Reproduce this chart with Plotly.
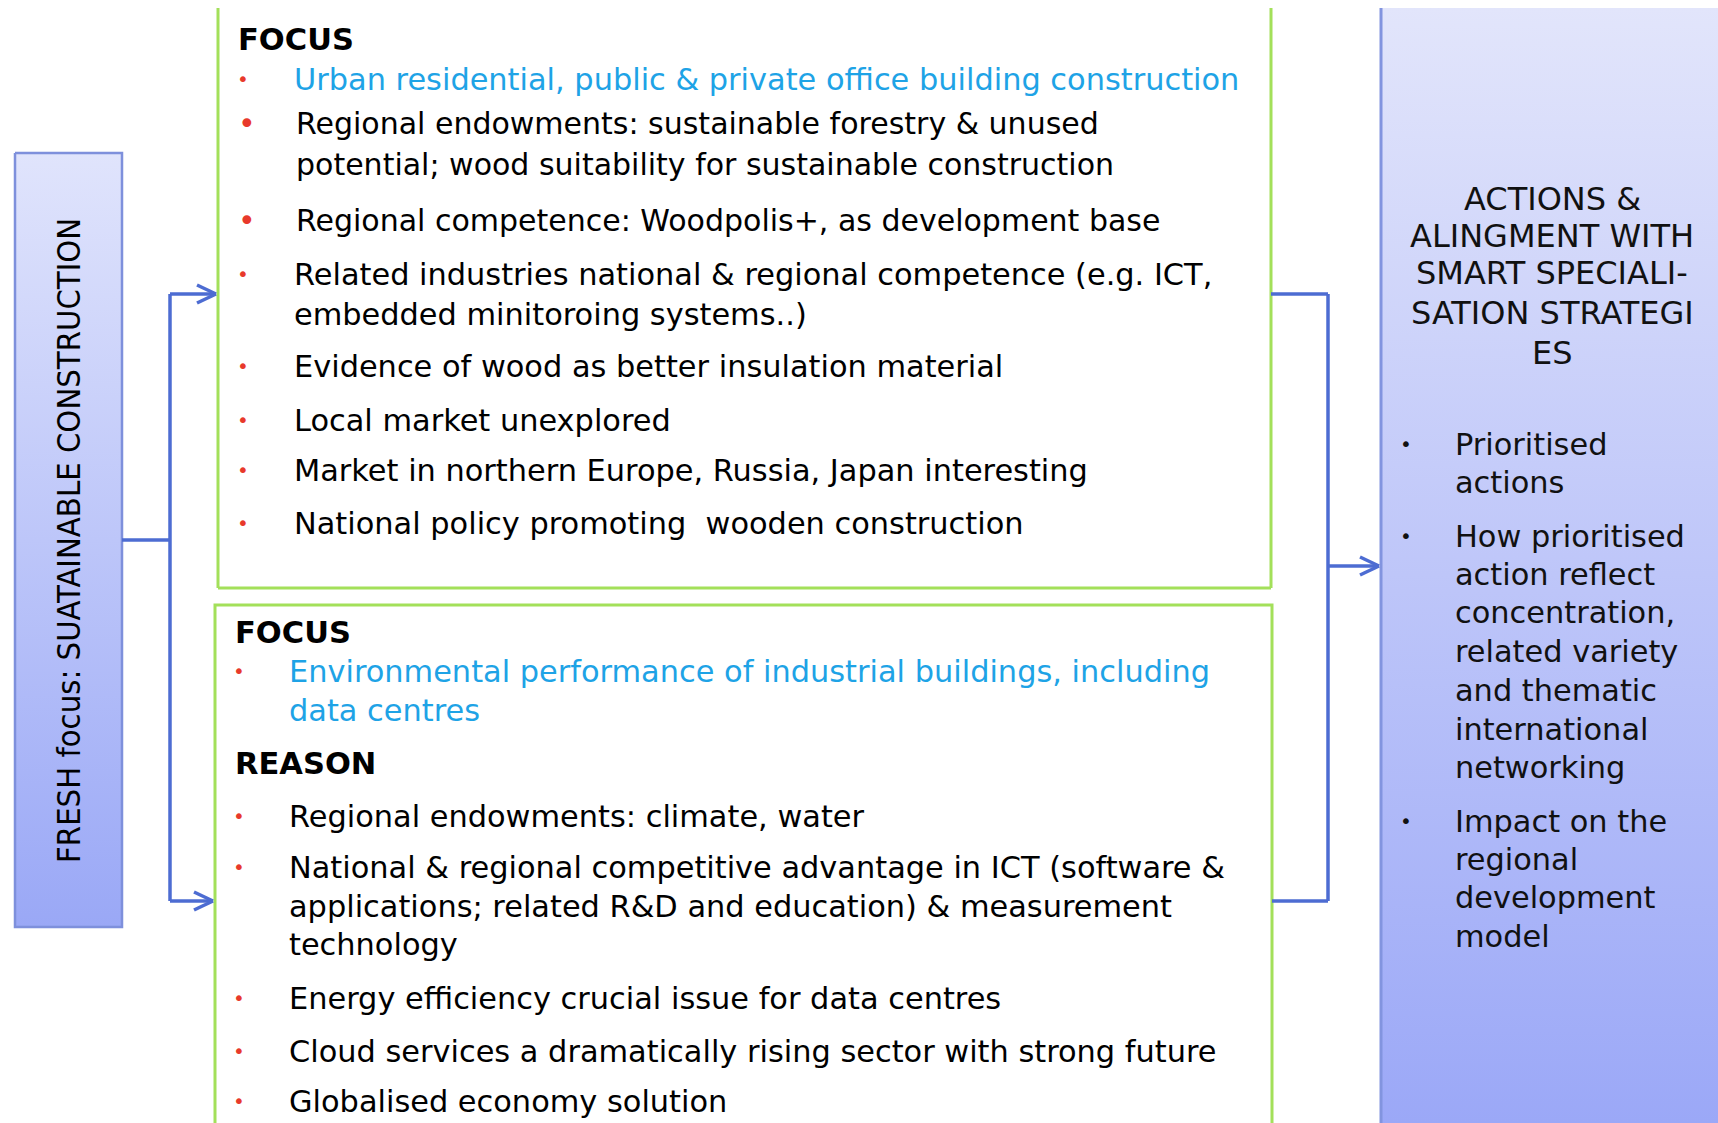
import plotly.graph_objects as go

W, H = 1718, 1123

# ---------------- text content ----------------
left_title = "FRESH focus: SUATAINABLE CONSTRUCTION"

top_heading = "FOCUS"
top_items = [
    ["Urban residential, public & private office building construction"],
    ["Regional endowments: sustainable forestry & unused",
     "potential; wood suitability for sustainable construction"],
    ["Regional competence: Woodpolis+, as development base"],
    ["Related industries national & regional competence (e.g. ICT,",
     "embedded minitoroing systems..)"],
    ["Evidence of wood as better insulation material"],
    ["Local market unexplored"],
    ["Market in northern Europe, Russia, Japan interesting"],
    ["National policy promoting  wooden construction"],
]
top_item_color = ["blue", "black", "black", "black", "black", "black", "black", "black"]
top_item_big = [False, True, True, False, False, False, False, False]

bot_heading1 = "FOCUS"
bot_focus = ["Environmental performance of industrial buildings, including", "data centres"]
bot_heading2 = "REASON"
bot_items = [
    ["Regional endowments: climate, water"],
    ["National & regional competitive advantage in ICT (software &",
     "applications; related R&D and education) & measurement",
     "technology"],
    ["Energy efficiency crucial issue for data centres"],
    ["Cloud services a dramatically rising sector with strong future"],
    ["Globalised economy solution"],
]

right_title = ["ACTIONS &", "ALINGMENT WITH", "SMART SPECIALI-", "SATION STRATEGI", "ES"]
right_items = [
    ["Prioritised", "actions"],
    ["How prioritised", "action reflect", "concentration,", "related variety",
     "and thematic", "international", "networking"],
    ["Impact on the", "regional", "development", "model"],
]

# ---------------- layout (positions / styles) ----------------
FONT = "DejaVu Sans"
BLUE_TXT = "#1ea3e6"
RED = "#e8392b"
GREEN = "#a3e05a"
CONN = "#4d6cd2"
FS = 30.4
TOP = 8  # white band at the top of the slide

top_item_y = [[79], [123, 164], [220], [274, 314], [366], [420], [470], [523]]
bot_focus_y = [671, 710]
bot_item_y = [[816], [867, 906, 944], [998], [1051], [1101]]
right_title_y = [199, 236, 273, 313, 353]
right_item_y = [[444, 482], [536, 574, 612, 651, 690, 729, 767], [821, 859, 897, 936]]

fig = go.Figure()

def box_fill(x0, x1, y0, y1, c_top, c_bot, line_color, line_w, name):
    fig.add_trace(go.Scatter(
        x=[x0, x1, x1, x0, x0], y=[y0, y0, y1, y1, y0],
        mode="lines", fill="toself",
        fillgradient=dict(type="vertical", start=y0, stop=y1,
                          colorscale=[[0, c_top], [1, c_bot]]),
        line=dict(color=line_color, width=line_w), hoverinfo="skip",
        showlegend=False, name=name))

# left box
box_fill(15, 122, 153, 927, "#e0e4fc", "#9aa8f6", "#7e90dc", 2.5, "left")
# right box
box_fill(1381, 1740, TOP, 1140, "#e2e5fb", "#9aa7f7", "rgba(0,0,0,0)", 0, "right")

shapes = []
shapes.append(dict(type="line", x0=1381, x1=1381, y0=TOP, y1=1140,
                   line=dict(color="#8294df", width=3)))

def seg(x0, y0, x1, y1, color=CONN, w=3.5):
    shapes.append(dict(type="line", x0=x0, y0=y0, x1=x1, y1=y1,
                       line=dict(color=color, width=w)))

# top green box (open at the top edge)
seg(218, TOP, 218, 588, GREEN, 3)
seg(1271, TOP, 1271, 588, GREEN, 3)
seg(218, 588, 1271, 588, GREEN, 3)
# bottom green box (runs off the bottom)
shapes.append(dict(type="rect", x0=215, x1=1272, y0=605, y1=1140,
                   line=dict(color=GREEN, width=3), fillcolor="white"))

# connectors
seg(122, 540, 170, 540)
seg(170, 294, 170, 901)
seg(170, 294, 214, 294)
seg(170, 901, 211, 901)
seg(1271, 294, 1328, 294)
seg(1328, 294, 1328, 901)
seg(1272, 901, 1328, 901)
seg(1328, 566, 1378, 566)
def head(x, y):
    seg(x - 19, y - 9, x, y)
    seg(x - 19, y + 9, x, y)
head(216, 294)
head(213, 901)
head(1379, 566)

fig.update_layout(shapes=shapes)

ann = []
def txt(x, y, s, size=FS, color="black", bold=False, anchor="left", family=FONT, angle=0):
    if bold:
        s = "<b>" + s + "</b>"
    ann.append(dict(x=x, y=y, xref="x", yref="y", text=s, showarrow=False,
                    xanchor=anchor, yanchor="middle", textangle=angle,
                    font=dict(family=family, size=size, color=color)))

txt(69, 541, left_title, size=32.5, family="DejaVu Sans Condensed", anchor="center", angle=-90)

txt(236, 39, top_heading, size=30.5, bold=True)
for item, ys, col, big in zip(top_items, top_item_y, top_item_color, top_item_big):
    bx = 247 if big else 243
    txt(bx, ys[0], "•", size=30 if big else 20, color=RED, anchor="center")
    tx = 294 if big else 292
    for line, y in zip(item, ys):
        txt(tx, y, line, size=30.0 if big else FS,
            color=BLUE_TXT if col == "blue" else "black")

txt(233, 632, bot_heading1, size=30.5, bold=True)
txt(239, bot_focus_y[0], "•", size=20, color=RED, anchor="center")
for line, y in zip(bot_focus, bot_focus_y):
    txt(287, y, line, size=FS, color=BLUE_TXT)
txt(233, 763, bot_heading2, size=30.5, bold=True)
for item, ys in zip(bot_items, bot_item_y):
    txt(239, ys[0], "•", size=20, color=RED, anchor="center")
    for line, y in zip(item, ys):
        txt(287, y, line, size=FS)

for line, y in zip(right_title, right_title_y):
    txt(1552, y, line, size=32, anchor="center", color="#111111")
for item, ys in zip(right_items, right_item_y):
    txt(1406, ys[0], "•", size=20, color="#111111", anchor="center")
    for line, y in zip(item, ys):
        txt(1453, y, line, size=FS, color="#111111")

fig.update_layout(
    annotations=ann,
    width=W, height=H,
    margin=dict(l=0, r=0, t=0, b=0),
    paper_bgcolor="white", plot_bgcolor="white",
    xaxis=dict(range=[0, W], visible=False, fixedrange=True),
    yaxis=dict(range=[H, 0], visible=False, fixedrange=True),
    showlegend=False,
)

fig.write_html(
    "out.html",
    config={"displayModeBar": False},
    post_script="document.body.style.margin='0';document.body.style.overflow='hidden';",
)
